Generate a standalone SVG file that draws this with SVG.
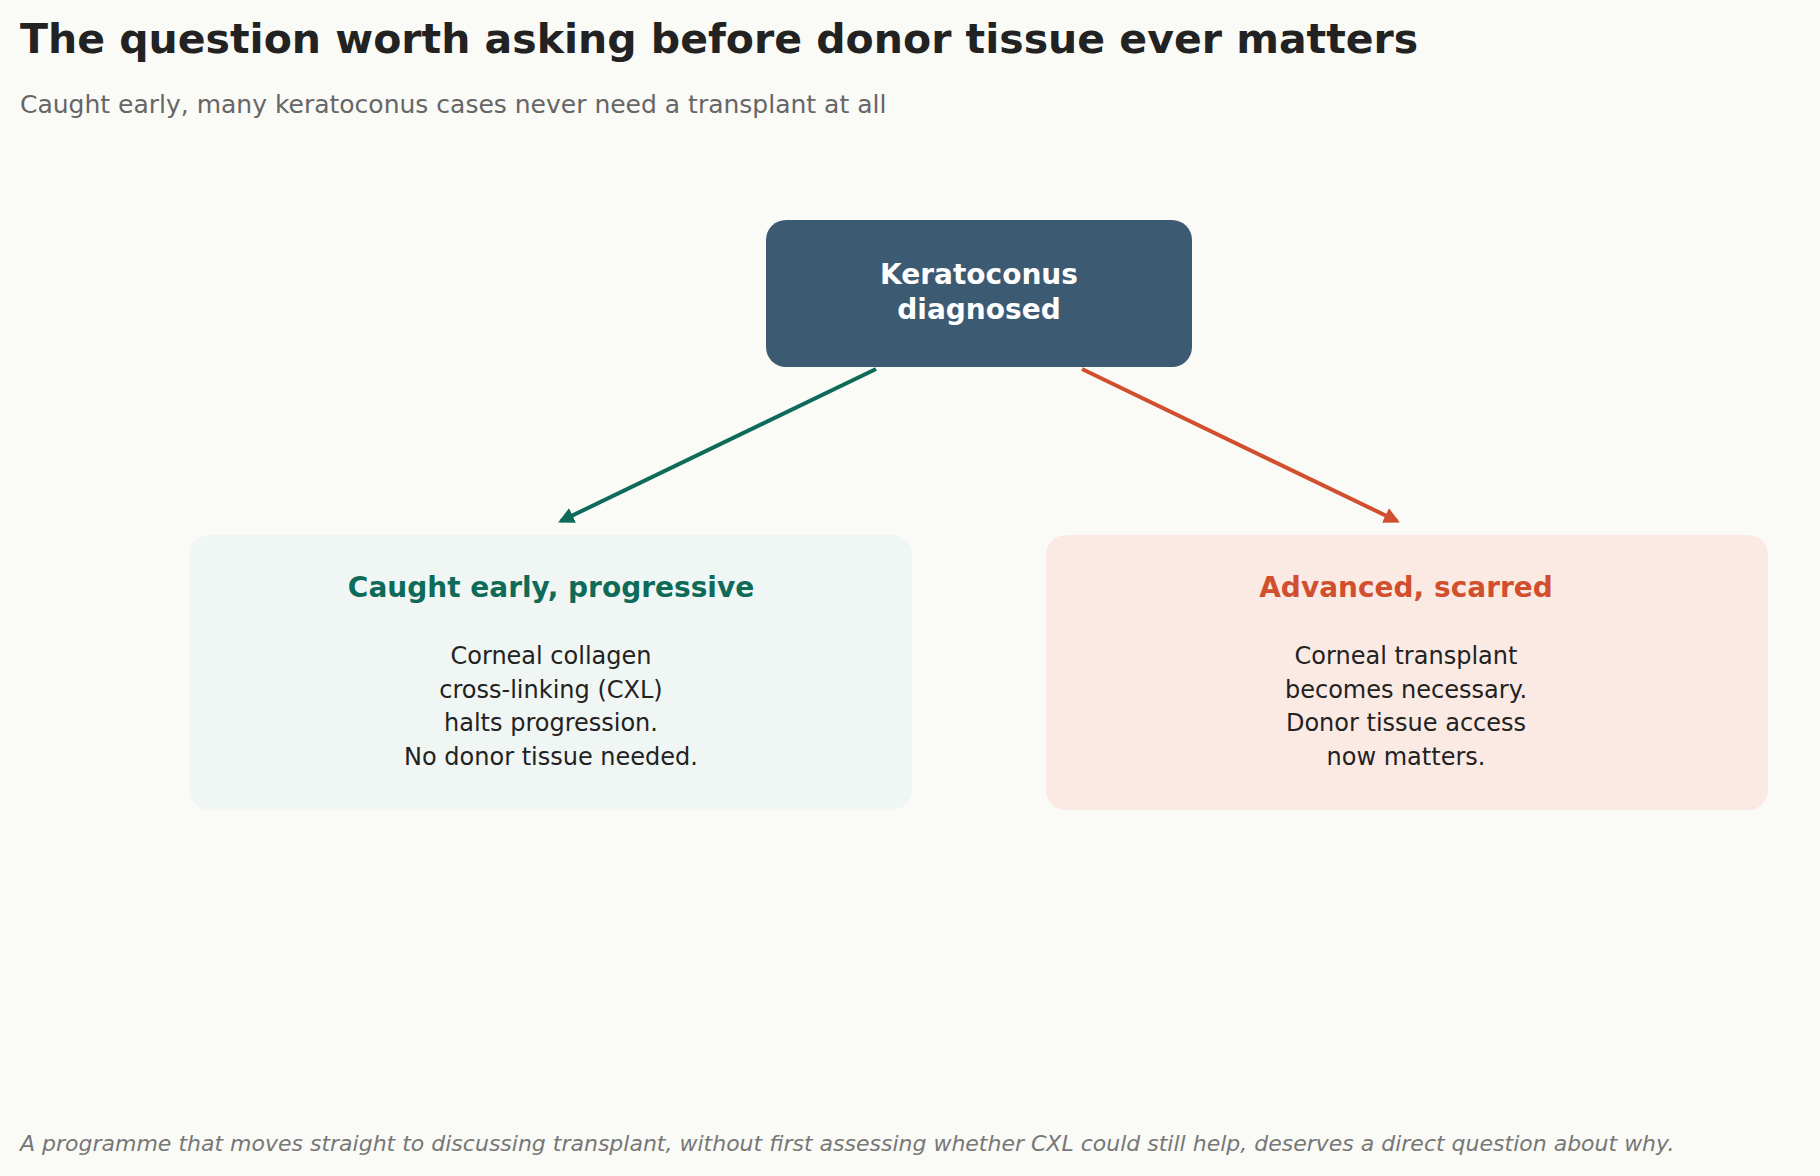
<svg xmlns="http://www.w3.org/2000/svg" width="1820" height="1176" viewBox="0 0 1820 1176">
<defs>
<style>
text{font-family:"DejaVu Sans","Liberation Sans",sans-serif}
.body{font-size:24px;fill:#222;text-anchor:middle}
.head{font-size:28px;font-weight:bold;text-anchor:middle}
</style>
<marker id="ag" viewBox="0 0 10 10" refX="8" refY="5" markerWidth="4" markerHeight="4" orient="auto"><path d="M0,0L10,5L0,10z" fill="#0e6b58"/></marker>
<marker id="ao" viewBox="0 0 10 10" refX="8" refY="5" markerWidth="4" markerHeight="4" orient="auto"><path d="M0,0L10,5L0,10z" fill="#d14f2e"/></marker>
</defs>
<rect width="1820" height="1176" fill="#fafaf6"/>
<text x="20" y="53" font-size="41" font-weight="bold" fill="#222">The question worth asking before donor tissue ever matters</text>
<text x="20" y="113" font-size="25" fill="#666">Caught early, many keratoconus cases never need a transplant at all</text>
<g id="connectors" fill="none" stroke-width="4">
<line x1="876" y1="369" x2="561" y2="521" stroke="#0e6b58" marker-end="url(#ag)"/>
<line x1="1082" y1="369" x2="1397" y2="521" stroke="#d14f2e" marker-end="url(#ao)"/>
</g>
<g id="diagnosed">
<rect x="766" y="220" width="426" height="147" rx="20" fill="#3d5a73"/>
<text x="979" y="284" class="head" fill="#fff">Keratoconus</text>
<text x="979" y="319" class="head" fill="#fff">diagnosed</text>
</g>
<g id="early">
<rect x="190" y="535" width="722" height="275" rx="20" fill="#f0f6f3"/>
<text x="551" y="597" class="head" fill="#0e6b58">Caught early, progressive</text>
<text x="551" y="664" class="body">Corneal collagen</text>
<text x="551" y="698" class="body">cross-linking (CXL)</text>
<text x="551" y="731" class="body">halts progression.</text>
<text x="551" y="765" class="body">No donor tissue needed.</text>
</g>
<g id="advanced">
<rect x="1046" y="535" width="722" height="275" rx="20" fill="#fbeae3"/>
<text x="1406" y="597" class="head" fill="#d14f2e">Advanced, scarred</text>
<text x="1406" y="664" class="body">Corneal transplant</text>
<text x="1406" y="698" class="body">becomes necessary.</text>
<text x="1406" y="731" class="body">Donor tissue access</text>
<text x="1406" y="765" class="body">now matters.</text>
</g>
<text x="20" y="1151" font-size="22" font-style="italic" fill="#777">A programme that moves straight to discussing transplant, without first assessing whether CXL could still help, deserves a direct question about why.</text>
</svg>
